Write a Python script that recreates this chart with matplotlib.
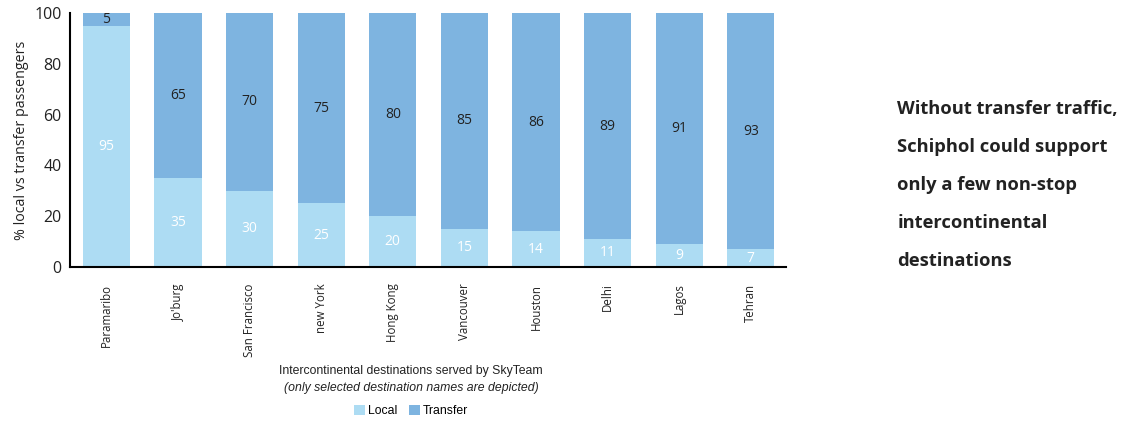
import matplotlib
matplotlib.use("Agg")
import matplotlib.pyplot as plt
from matplotlib.patches import Patch
import numpy as np

# share of local vs transfer passengers per destination (%)
destinations = ["Paramaribo", "Jo'burg", "San Francisco", "new York", "Hong Kong",
                "Vancouver", "Houston", "Delhi", "Lagos", "Tehran"]
local = [95, 35, 30, 25, 20, 15, 14, 11, 9, 7]
transfer = [5, 65, 70, 75, 80, 85, 86, 89, 91, 93]

localColor = "#addcf3"
transferColor = "#7eb4e0"
textFont = ["Open Sans", "DejaVu Sans"]
arialFont = ["Liberation Sans", "DejaVu Sans"]

fig = plt.figure(figsize=(11.26, 4.21), dpi=100)
ax = fig.add_axes([0.062, 0.366, 0.636, 0.603])

x = np.arange(len(destinations))
barWidth = 0.66
ax.bar(x, local, width=barWidth, color=localColor)
ax.bar(x, transfer, width=barWidth, bottom=local, color=transferColor)

for i in range(len(x)):
    ax.text(x[i], local[i] / 2.0, str(local[i]), ha="center", va="center",
            color="white", fontsize=10, family=textFont)
    ax.text(x[i], local[i] + transfer[i] / 2.0, str(transfer[i]), ha="center",
            va="center", color="#222222", fontsize=10, family=textFont)

ax.set_xlim(-0.51, 9.49)
ax.set_ylim(0, 100)
ax.set_yticks([0, 20, 40, 60, 80, 100])
ax.set_yticklabels(["0", "20", "40", "60", "80", "100"], family=textFont, fontsize=11.5)
ax.set_xticks(x)
ax.set_xticklabels(destinations, rotation=90, family=textFont, fontsize=8.3, va="top")
ax.tick_params(axis="both", length=0, colors="#222222")
ax.tick_params(axis="x", pad=12)
ax.tick_params(axis="y", pad=6)
ax.set_ylabel("% local vs transfer passengers", family=textFont, fontsize=10.3,
              color="#222222", labelpad=4)

ax.spines["right"].set_color("none")
ax.spines["top"].set_color("none")
ax.spines["left"].set_linewidth(1.5)
ax.spines["bottom"].set_linewidth(1.5)

# axis caption under the destination names
fig.text(0.365, 0.118, "Intercontinental destinations served by SkyTeam",
         ha="center", va="center", family=arialFont, fontsize=8.8, color="#222222")
fig.text(0.365, 0.078, "(only selected destination names are depicted)",
         ha="center", va="center", family=arialFont, fontsize=8.8, style="italic",
         color="#222222")

handles = [Patch(facecolor=localColor, label="Local"),
           Patch(facecolor=transferColor, label="Transfer")]
fig.legend(handles=handles, loc="center", bbox_to_anchor=(0.365, 0.024), ncol=2,
           frameon=False, prop={"family": arialFont, "size": 8.8},
           handlelength=0.9, handleheight=0.9, handletextpad=0.2, columnspacing=1.0)

fig.text(0.797, 0.762,
         "Without transfer traffic,\nSchiphol could support\nonly a few non-stop\nintercontinental\ndestinations",
         ha="left", va="top", family=textFont, fontsize=13.2, fontweight="bold",
         color="#222222", linespacing=2.43)

fig.savefig("out.png", dpi=100)
